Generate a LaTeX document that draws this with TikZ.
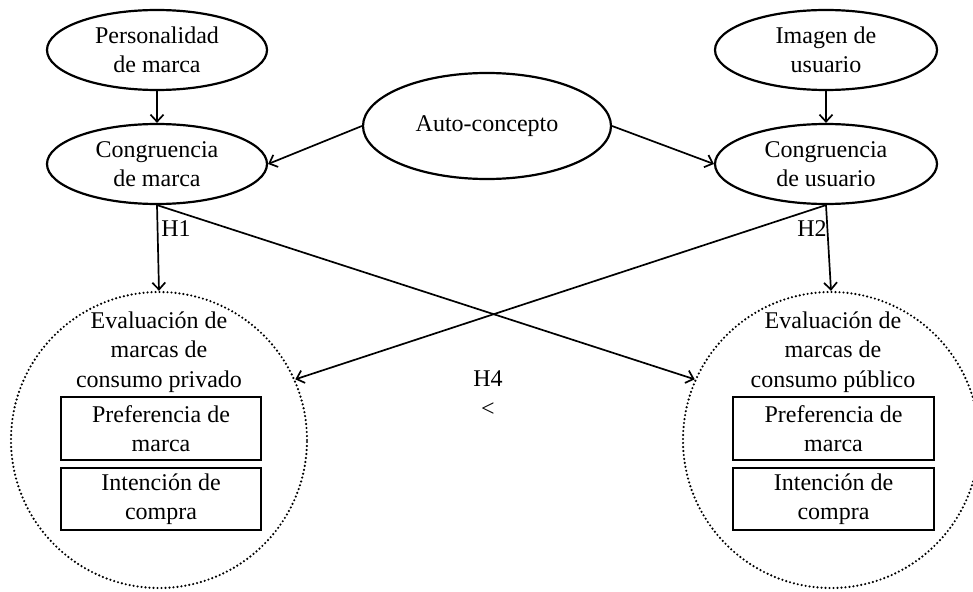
\documentclass[tikz,border=0pt]{standalone}
\usepackage{fontspec}
\setmainfont{Liberation Serif}
\usetikzlibrary{shapes.geometric,arrows.meta}
\begin{document}
\begin{tikzpicture}[x=1pt,y=-1pt,
  font=\fontsize{24}{28.5}\selectfont,
  oval/.style={draw,ellipse,line width=2.2pt,minimum width=220pt,minimum height=80pt,inner sep=0pt,align=center},
  dotcircle/.style={draw,circle,line width=2.4pt,dash pattern=on 0pt off 4pt,line cap=round,minimum size=296pt,inner sep=0pt},
  itembox/.style={draw,line width=2.2pt,minimum width=200pt,minimum height=62pt,inner sep=0pt,align=center},
  arr/.style={line width=1.7pt,-{Straight Barb[length=7pt,width=13pt,line width=1.7pt]}},
  lbl/.style={inner sep=0pt}]
\useasboundingbox (0,0) rectangle (973,591);
\fill[white] (0,0) rectangle (973,591);
% ellipses
\node[oval] (pm) at (157,50) {Personalidad\\de marca};
\node[oval] (cm) at (157,164) {Congruencia\\de marca};
\node[oval,minimum width=248pt,minimum height=106pt] (ac) at (487,126) {Auto-concepto};
\node[oval,minimum width=222pt] (iu) at (826,50) {Imagen de\\usuario};
\node[oval,minimum width=222pt] (cu) at (826,164) {Congruencia\\de usuario};
% circles
\node[dotcircle] (lc) at (159,440) {};
\node[dotcircle] (rc) at (831,440) {};
\node[lbl,align=center,font=\fontsize{24}{29.5}\selectfont] (lt) at (159,352) {Evaluación de\\marcas de\\consumo privado};
\node[lbl,align=center,font=\fontsize{24}{29.5}\selectfont] (rt) at (833,352) {Evaluación de\\marcas de\\consumo público};
% boxes
\node[itembox,minimum height=63pt] (lb1) at (161,428.5) {Preferencia de\\marca};
\node[itembox] (lb2) at (161,499) {Intención de\\compra};
\node[itembox,minimum height=63pt,minimum width=201pt] (rb1) at (833.5,428.5) {Preferencia de\\marca};
\node[itembox,minimum width=201pt] (rb2) at (833.5,499) {Intención de\\compra};
% arrows
\draw[arr] (pm) -- (cm);
\draw[arr] (iu.south) -- (cu.north);
\draw[arr] (ac.west) -- (cm.east);
\draw[arr] (ac.east) -- (cu.west);
\draw[arr] (cm.south) -- (lc.north);
\draw[arr] (cm.south) -- (rc.156);
\draw[arr] (cu.south) -- (rc.north);
\draw[arr] (cu.south) -- (lc.24);
% labels
\node[lbl] (h1) at (176,229) {H1};
\node[lbl] (h2) at (812,229) {H2};
\node[lbl] (h4) at (488,379) {H4};
\node[lbl] (lt4) at (488,410) {<};
\end{tikzpicture}
\end{document}
